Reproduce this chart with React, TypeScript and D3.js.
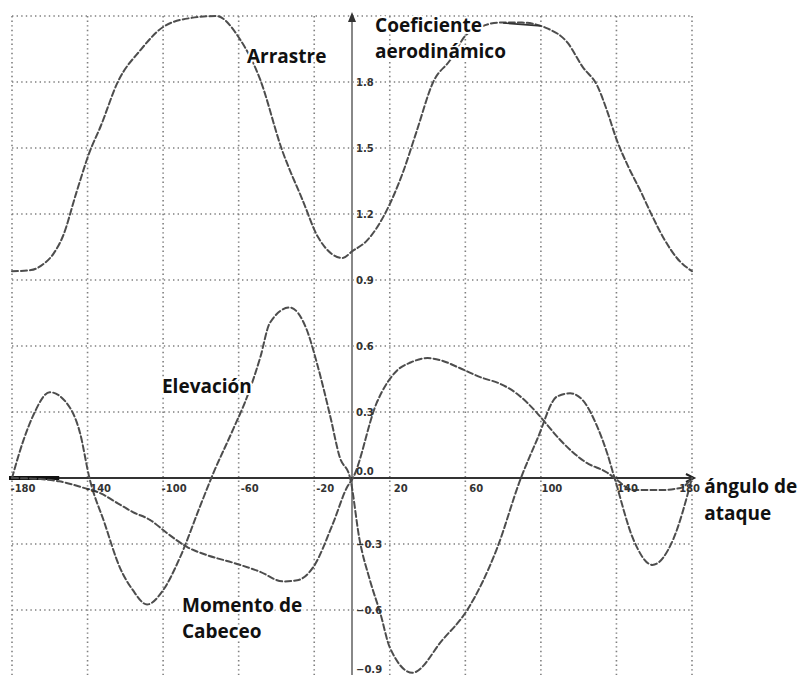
import React from "react";
import * as d3 from "d3";

// Angle of attack (degrees) and coefficient values for each curve
const dragAngles = [-180, -170, -163, -158, -153, -146, -139, -133, -124, -112, -100, -86, -72, -59, -49, -37, -26, -18, -5, 0, 8, 27, 34, 43, 52, 60, 68, 78, 90, 100, 103, 114, 122, 130, 135, 140, 146, 153, 159, 165, 172, 180];
const dragValues = [0.94, 0.945, 0.975, 1.02, 1.1, 1.295, 1.48, 1.6, 1.8, 1.945, 2.05, 2.09, 2.1, 1.99, 1.82, 1.49, 1.26, 1.095, 1.0, 1.03, 1.08, 1.39, 1.57, 1.8, 1.9, 2.01, 2.05, 2.07, 2.07, 2.055, 2.045, 1.98, 1.87, 1.78, 1.67, 1.54, 1.42, 1.3, 1.19, 1.09, 1.0, 0.94];

const liftAngles = [-180, -174, -169, -160, -151, -144, -139, -131, -123, -116, -108.5, -100, -91, -80.5, -73.5, -63, -55.5, -48.5, -43.5, -33, -24, -18.5, -11.5, -6.5, -1, 4, 9.5, 15, 20, 32, 48, 61, 77, 89, 98, 108.5, 115.5, 122, 130, 135, 139, 149, 159, 170, 180];
const liftValues = [0, 0.17, 0.28, 0.39, 0.34, 0.205, 0, -0.205, -0.405, -0.51, -0.575, -0.51, -0.36, -0.13, 0.02, 0.22, 0.37, 0.55, 0.705, 0.775, 0.675, 0.52, 0.28, 0.095, 0, -0.28, -0.465, -0.615, -0.77, -0.885, -0.735, -0.6, -0.315, -0.01, 0.175, 0.37, 0.385, 0.355, 0.23, 0.115, 0, -0.28, -0.395, -0.28, 0];

const momentAngles = [-180, -165, -155, -142, -133, -124, -116, -107, -98, -87, -77, -63, -49, -36.5, -29, -20.5, -10, -2.5, 0.5, 13, 24, 31, 40, 47, 57, 69, 78, 87, 98, 102, 110, 124, 135, 139, 149, 163, 174, 180];
const momentValues = [0, -0.005, -0.015, -0.045, -0.07, -0.115, -0.155, -0.19, -0.25, -0.315, -0.35, -0.385, -0.425, -0.47, -0.465, -0.405, -0.205, -0.04, 0, 0.34, 0.49, 0.525, 0.545, 0.535, 0.5, 0.455, 0.43, 0.385, 0.295, 0.255, 0.175, 0.07, 0.025, 0, -0.055, -0.055, -0.045, 0];

const xTicks = [-180, -140, -100, -60, -20, 20, 60, 100, 140, 180];
const yGrid = [-0.9, -0.6, -0.3, 0, 0.3, 0.6, 0.9, 1.2, 1.5, 1.8, 2.1];
const yTickLabels = [-0.9, -0.6, -0.3, 0, 0.3, 0.6, 0.9, 1.2, 1.5, 1.8];

const W = 800;
const H = 675;

const x = d3.scaleLinear().domain([-180, 180]).range([12, 692]);
const y = d3.scaleLinear().domain([-0.9, 2.1]).range([676, 16]);

const line = d3
  .line<[number, number]>()
  .x((d) => x(d[0]))
  .y((d) => y(d[1]))
  .curve(d3.curveMonotoneX);

const zip = (a: number[], b: number[]) => a.map((v, i) => [v, b[i]] as [number, number]);

const series = [
  { name: "drag", pts: zip(dragAngles, dragValues) },
  { name: "lift", pts: zip(liftAngles, liftValues) },
  { name: "moment", pts: zip(momentAngles, momentValues) },
];

const labelFont = "'Open Sans', 'Noto Sans', sans-serif";

const Label = ({ ax, val, text }: { ax: number; val: number; text: string }) => (
  <text
    x={x(ax)}
    y={y(val)}
    fontFamily={labelFont}
    fontWeight={700}
    fontSize={19}
    fill="#111"
    stroke="#fff"
    strokeWidth={4}
    paintOrder="stroke"
    strokeLinejoin="round"
  >
    {text}
  </text>
);

export default function App() {
  return (
    <div style={{ position: "absolute", left: 0, top: 0 }}>
      <svg width={W} height={H} style={{ display: "block", background: "#fff" }}>
        {/* dotted grid */}
        <g stroke="#555" strokeWidth={1.6} strokeDasharray="1.4 3.2" opacity={0.75}>
          {xTicks.map((t) => (
            <line key={"vx" + t} x1={x(t)} x2={x(t)} y1={y(2.1)} y2={H} />
          ))}
          {yGrid.filter((v) => v !== 0).map((v) => (
            <line key={"hy" + v} x1={x(-180)} x2={x(180)} y1={y(v)} y2={y(v)} />
          ))}
        </g>

        {/* vertical axis */}
        <line x1={x(0)} x2={x(0)} y1={H} y2={y(2.1) + 4} stroke="#888" strokeWidth={2} />
        <path
          d={`M${x(0) - 4},${y(2.1) + 6} L${x(0)},${y(2.1) - 4} L${x(0) + 4},${y(2.1) + 6} Z`}
          fill="#333"
        />

        {/* horizontal axis */}
        <line x1={x(-180)} x2={x(180)} y1={y(0)} y2={y(0)} stroke="#333" strokeWidth={1.8} />
        <line x1={x(-180) - 3} x2={x(-155)} y1={y(0)} y2={y(0)} stroke="#111" strokeWidth={4} />
        <path
          d={`M${x(180) - 6},${y(0) - 4} L${x(180) + 2},${y(0)} L${x(180) - 6},${y(0) + 4}`}
          fill="none"
          stroke="#222"
          strokeWidth={2}
        />

        {/* curves */}
        <g fill="none" stroke="#4d4d4d" strokeWidth={2} strokeDasharray="6 3" strokeLinecap="round">
          {series.map((s) => (
            <path key={s.name} d={line(s.pts) || ""} />
          ))}
        </g>

        {/* tick labels */}
        <g fontFamily="'DejaVu Sans', sans-serif" fontSize={10} fontWeight={700} fill="#333">
          {xTicks.map((t, i) => (
            <text
              key={"tx" + t}
              x={i === xTicks.length - 1 ? x(t) + 8 : x(t) + 11}
              y={y(0) + 14}
              textAnchor={i === xTicks.length - 1 ? "end" : "middle"}
            >
              {t}
            </text>
          ))}
          {yTickLabels.map((v) => (
            <text key={"ty" + v} x={x(0) + 4} y={Math.min(y(v) + (v === 0 ? -3 : 4), H - 2)}>
              {d3.format(".1f")(v)}
            </text>
          ))}
        </g>

        {/* leader from the coefficient title to the drag curve */}
        <line x1={x(80)} x2={x(100)} y1={y(2.068)} y2={y(2.055)} stroke="#333" strokeWidth={1.6} />

        {/* curve names */}
        <Label ax={-55.6} val={1.886} text="Arrastre" />
        <Label ax={12.2} val={2.027} text="Coeficiente" />
        <Label ax={12.2} val={1.909} text="aerodinámico" />
        <Label ax={-100.6} val={0.386} text="Elevación" />
        <Label ax={-90} val={-0.609} text="Momento de" />
        <Label ax={-90} val={-0.727} text="Cabeceo" />
        <Label ax={186.5} val={-0.068} text="ángulo de" />
        <Label ax={186.5} val={-0.19} text="ataque" />
      </svg>
    </div>
  );
}
